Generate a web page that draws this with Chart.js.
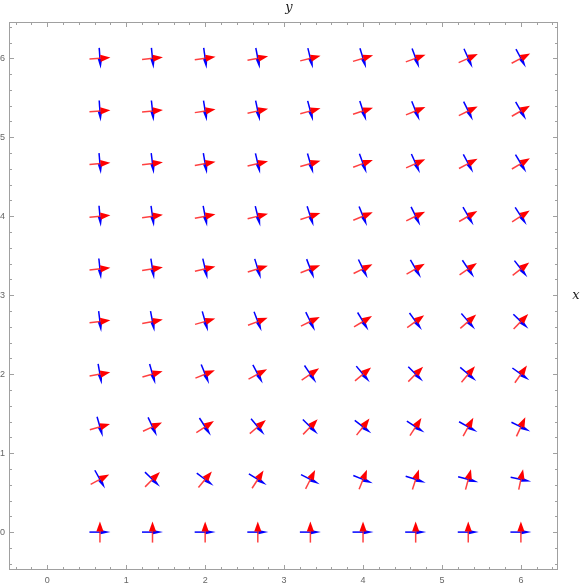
<!DOCTYPE html>
<html>
<head>
<meta charset="utf-8">
<script src="https://cdn.jsdelivr.net/npm/chart.js@4.4.0/dist/chart.umd.min.js"></script>
<style>
  html, body { margin: 0; padding: 0; background: #fff; }
  #wrap { width: 581px; height: 585px; }
</style>
</head>
<body>
<div id="wrap"><canvas id="FieldChart" width="581" height="585"></canvas></div>
<script>
// grid positions
const xValues = [0.667, 1.333, 2, 2.667, 3.333, 4, 4.667, 5.333, 6];
const yValues = [0, 0.667, 1.333, 2, 2.667, 3.333, 4, 4.667, 5.333, 6];

// arrow directions in degrees, one row per y value (bottom to top)
const redAngles = [
  [90, 90, 90, 90, 90, 90, 90, 90, 90],
  [28, 45, 50, 57, 63, 68, 72, 75, 78],
  [16, 25, 33, 40, 46, 52, 57, 61, 65],
  [10, 16, 22, 28, 34, 40, 45, 50, 55],
  [7, 11, 16, 21, 26, 31, 36, 41, 46],
  [6, 9, 13, 17, 21, 26, 30, 34, 38],
  [5, 8, 11, 14, 18, 22, 26, 30, 33],
  [5, 7, 10, 13, 16, 20, 24, 28, 31],
  [4, 6, 9, 12, 15, 18, 22, 26, 30],
  [4, 6, 8, 11, 14, 17, 20, 24, 28]
];
const blueAngles = [
  [0, 0, 0, 0, 0, 0, 0, 0, 0],
  [-61, -44, -37, -32, -27, -22, -18, -15, -12],
  [-74, -65, -57, -50, -44, -38, -33, -29, -26],
  [-80, -74, -68, -62, -56, -50, -45, -40, -36],
  [-83, -79, -74, -69, -64, -59, -54, -49, -44],
  [-84, -81, -77, -73, -69, -64, -60, -56, -52],
  [-85, -82, -79, -76, -72, -68, -64, -60, -57],
  [-85, -83, -80, -77, -74, -70, -66, -62, -59],
  [-86, -84, -81, -78, -75, -72, -68, -64, -60],
  [-86, -84, -82, -79, -76, -73, -70, -66, -62]
];

const xTicks = [0, 1, 2, 3, 4, 5, 6];
const yTicks = [0, 1, 2, 3, 4, 5, 6];
const xRange = [-0.485, 6.47];
const yRange = [-0.48, 6.46];

var points = [];
for (var j = 0; j < yValues.length; j++)
  for (var i = 0; i < xValues.length; i++)
    points.push({x: xValues[i], y: yValues[j]});

var ARROW_HALF = 0.133; // half length of an arrow in data units

function drawArrow(ctx, xs, ys, cx, cy, deg, color, headW, shaftAlpha) {
  var a = deg * Math.PI / 180;
  var dx = Math.cos(a) * ARROW_HALF, dy = Math.sin(a) * ARROW_HALF;
  var x0 = xs.getPixelForValue(cx - dx), y0 = ys.getPixelForValue(cy - dy);
  var x1 = xs.getPixelForValue(cx + dx), y1 = ys.getPixelForValue(cy + dy);
  var len = Math.hypot(x1 - x0, y1 - y0);
  var ux = (x1 - x0) / len, uy = (y1 - y0) / len;
  var headL = 10;
  var bx = x1 - ux * headL, by = y1 - uy * headL;
  ctx.save();
  ctx.globalAlpha = shaftAlpha;
  ctx.strokeStyle = color;
  ctx.lineWidth = 1.5;
  ctx.beginPath();
  ctx.moveTo(x0, y0);
  ctx.lineTo(bx, by);
  ctx.stroke();
  ctx.globalAlpha = 1;
  ctx.fillStyle = color;
  ctx.beginPath();
  ctx.moveTo(x1, y1);
  ctx.lineTo(bx - uy * headW, by + ux * headW);
  ctx.lineTo(bx + uy * headW, by - ux * headW);
  ctx.closePath();
  ctx.fill();
  ctx.restore();
}

// arrows, frame, inward ticks and axis names
const fieldPlugin = {
  id: 'fieldPlugin',
  afterDatasetsDraw(chart) {
    var ctx = chart.ctx, xs = chart.scales.x, ys = chart.scales.y;
    var area = chart.chartArea;
    for (var j = 0; j < yValues.length; j++) {
      for (var i = 0; i < xValues.length; i++) {
        drawArrow(ctx, xs, ys, xValues[i], yValues[j], blueAngles[j][i], '#0000ff', 2.2, 1);
        drawArrow(ctx, xs, ys, xValues[i], yValues[j], redAngles[j][i], '#ff0000', 3.6, 0.75);
      }
    }
    ctx.save();
    ctx.strokeStyle = '#a0a0a0';
    ctx.lineWidth = 1;
    ctx.strokeRect(area.left + 0.5, area.top + 0.5, area.right - area.left - 1, area.bottom - area.top - 1);
    ctx.beginPath();
    // minor ticks every 0.2, major on integers
    for (var k = -2; k <= 32; k++) {
      var v = k * 0.2;
      var major = (k % 5 === 0);
      var t = major ? 5 : 3;
      if (v >= xRange[0] && v <= xRange[1]) {
        var px = Math.round(xs.getPixelForValue(v)) + 0.5;
        ctx.moveTo(px, area.bottom); ctx.lineTo(px, area.bottom - t);
        ctx.moveTo(px, area.top); ctx.lineTo(px, area.top + t);
      }
      if (v >= yRange[0] && v <= yRange[1]) {
        var py = Math.round(ys.getPixelForValue(v)) + 0.5;
        ctx.moveTo(area.left, py); ctx.lineTo(area.left + t, py);
        ctx.moveTo(area.right, py); ctx.lineTo(area.right - t, py);
      }
    }
    ctx.stroke();
    ctx.fillStyle = '#222';
    ctx.font = 'italic 13px "DejaVu Serif", serif';
    ctx.textAlign = 'center';
    ctx.textBaseline = 'middle';
    ctx.fillText('y', 289, 8);
    ctx.fillText('x', 576, area.top + (area.bottom - area.top) * 0.5);
    ctx.restore();
  }
};

new Chart("FieldChart", {
  type: "scatter",
  data: {
    datasets: [{
      data: points,
      pointRadius: 0,
      showLine: false
    }]
  },
  options: {
    responsive: false,
    animation: false,
    layout: {padding: {top: 22, right: 23, left: 0, bottom: 0}},
    plugins: {
      legend: {display: false},
      tooltip: {enabled: false}
    },
    scales: {
      x: {
        type: 'linear',
        min: xRange[0],
        max: xRange[1],
        afterBuildTicks: function(axis) { axis.ticks = xTicks.map(v => ({value: v})); },
        afterFit: function(axis) { axis.height = 15; },
        grid: {display: false, drawTicks: false, tickLength: 0},
        border: {display: false},
        ticks: {color: '#666', font: {size: 9, family: 'Arial'}, padding: 5, maxRotation: 0, autoSkip: false}
      },
      y: {
        type: 'linear',
        min: yRange[0],
        max: yRange[1],
        afterBuildTicks: function(axis) { axis.ticks = yTicks.map(v => ({value: v})); },
        afterFit: function(axis) { axis.width = 9; },
        grid: {display: false, drawTicks: false, tickLength: 0},
        border: {display: false},
        ticks: {color: '#666', font: {size: 9, family: 'Arial'}, padding: 4, autoSkip: false}
      }
    }
  },
  plugins: [fieldPlugin]
});
</script>
</body>
</html>
